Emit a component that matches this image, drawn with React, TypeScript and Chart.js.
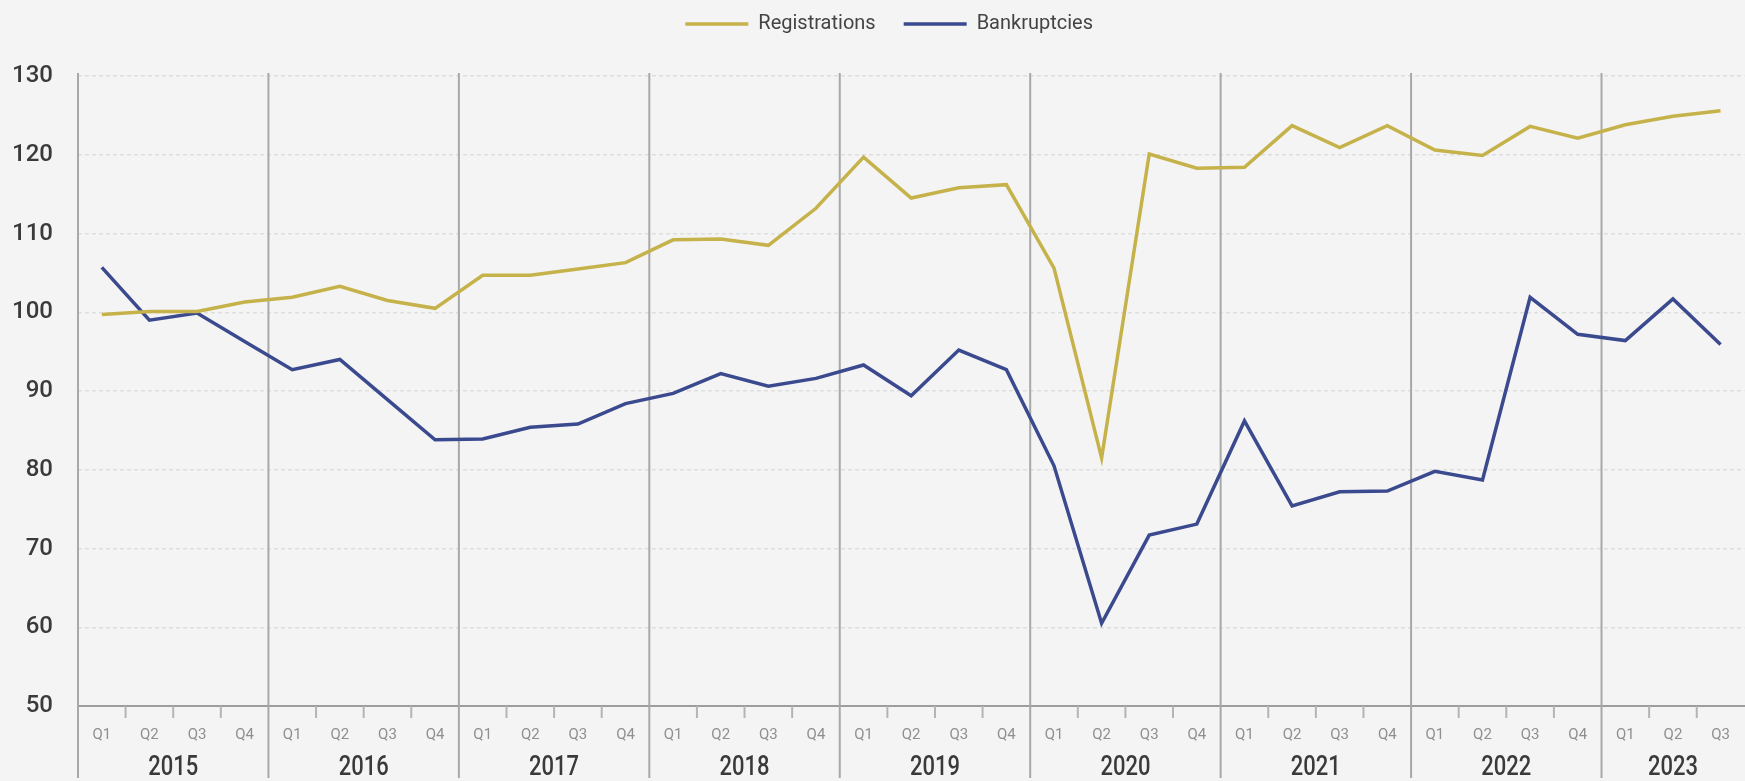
import { useEffect, useRef } from 'react';
import { Chart, registerables } from 'chart.js';

Chart.register(...registerables);

const YEARS = ['2015', '2016', '2017', '2018', '2019', '2020', '2021', '2022', '2023'];
const QUARTER_NAMES = ['Q1', 'Q2', 'Q3', 'Q4'];
const QUARTERS_PER_YEAR = [4, 4, 4, 4, 4, 4, 4, 4, 3];

const REGISTRATIONS = [
  99.7, 100.1, 100.1, 101.3,
  101.9, 103.3, 101.5, 100.5,
  104.7, 104.7, 105.5, 106.3,
  109.2, 109.3, 108.5, 113.2,
  119.7, 114.5, 115.8, 116.2,
  105.6, 81.5, 120.1, 118.3,
  118.4, 123.7, 120.9, 123.7,
  120.6, 119.9, 123.6, 122.1,
  123.8, 124.9, 125.6,
];

const BANKRUPTCIES = [
  105.7, 99.0, 99.9, 96.3,
  92.7, 94.0, 88.9, 83.8,
  83.9, 85.4, 85.8, 88.4,
  89.7, 92.2, 90.6, 91.6,
  93.3, 89.4, 95.2, 92.7,
  80.5, 60.5, 71.7, 73.1,
  86.2, 75.4, 77.2, 77.3,
  79.8, 78.7, 101.9, 97.2,
  96.4, 101.7, 95.9,
];

const Y_MIN = 50;
const Y_MAX = 130;
const Y_STEP = 10;

const CATEGORIES: string[] = [];
YEARS.forEach((y, k) => {
  for (let q = 0; q < QUARTERS_PER_YEAR[k]; q++) CATEGORIES.push(`${y} ${QUARTER_NAMES[q]}`);
});

const FONT = "Roboto, 'Liberation Sans', sans-serif";
const YELLOW = '#c6b24a';
const BLUE = '#3b4a8e';

const legendSpacer = {
  id: 'legendSpacer',
  beforeLayout(chart: any) {
    const lg = chart.legend;
    if (lg && !lg.__patched) {
      const orig = lg.fit.bind(lg);
      lg.fit = function () {
        orig();
        this.height += 32;
      };
      lg.__patched = true;
    }
  },
  afterLayout(chart: any) {
    const lg = chart.legend;
    if (lg) {
      lg.left -= 22;
      lg.right -= 22;
    }
  },
};

const yearAxis = {
  id: 'yearAxis',
  beforeDatasetsDraw(chart: any) {
    const x = chart.scales.x;
    const { top, bottom } = chart.chartArea;
    const ctx = chart.ctx;
    const half = (x.getPixelForValue(1) - x.getPixelForValue(0)) / 2;
    ctx.save();
    let idx = 0;
    YEARS.forEach((_, k) => {
      const n = QUARTERS_PER_YEAR[k];
      const left = x.getPixelForValue(idx) - half;
      ctx.strokeStyle = '#a8a8a8';
      ctx.lineWidth = 2;
      ctx.beginPath();
      ctx.moveTo(left, top - 3);
      ctx.lineTo(left, chart.height - 3);
      ctx.stroke();
      ctx.strokeStyle = '#b4b4b4';
      for (let q = 1; q < n; q++) {
        const px = x.getPixelForValue(idx + q) - half;
        ctx.beginPath();
        ctx.moveTo(px, bottom);
        ctx.lineTo(px, bottom + 12);
        ctx.stroke();
      }
      idx += n;
    });
    ctx.restore();
  },
  afterDraw(chart: any) {
    const x = chart.scales.x;
    const ctx = chart.ctx;
    ctx.save();
    ctx.font = `500 28px ${FONT}`;
    ctx.fillStyle = '#3a3a3a';
    ctx.textAlign = 'center';
    ctx.textBaseline = 'middle';
    let idx = 0;
    YEARS.forEach((y, k) => {
      const n = QUARTERS_PER_YEAR[k];
      const cx = (x.getPixelForValue(idx) + x.getPixelForValue(idx + n - 1)) / 2;
      ctx.fillText(y, cx, 768, 50);
      idx += n;
    });
    ctx.restore();
  },
};

export default function App() {
  const ref = useRef<HTMLCanvasElement | null>(null);

  useEffect(() => {
    if (!ref.current) return;
    const chart = new Chart(ref.current, {
      type: 'line',
      data: {
        labels: CATEGORIES,
        datasets: [
          {
            label: 'Registrations',
            data: REGISTRATIONS,
            borderColor: YELLOW,
            backgroundColor: YELLOW,
            borderWidth: 3.5,
            pointRadius: 0,
            tension: 0,
          },
          {
            label: 'Bankruptcies',
            data: BANKRUPTCIES,
            borderColor: BLUE,
            backgroundColor: BLUE,
            borderWidth: 3.5,
            pointRadius: 0,
            tension: 0,
          },
        ],
      },
      options: {
        responsive: false,
        animation: false,
        layout: { padding: { top: -14, left: 0, right: 0, bottom: 0 } },
        plugins: {
          legend: {
            display: true,
            position: 'top',
            fullSize: false,
            labels: {
              usePointStyle: true,
              pointStyle: 'line',
              pointStyleWidth: 63,
              padding: 28,
              color: '#444',
              font: { family: FONT, size: 20 },
            },
          },
          tooltip: { enabled: false },
        },
        scales: {
          x: {
            type: 'category',
            offset: true,
            grid: { display: true, color: 'transparent', drawTicks: false, drawOnChartArea: false },
            border: { display: true, color: '#9d9d9d', width: 2 },
            ticks: {
              autoSkip: false,
              maxRotation: 0,
              padding: 20,
              color: '#8f8f8f',
              font: { family: FONT, size: 15 },
              callback: (_v: any, i: number) => CATEGORIES[i].split(' ')[1],
            },
            afterFit: (scale: any) => {
              scale.height = 75;
            },
          },
          y: {
            min: Y_MIN,
            max: Y_MAX,
            ticks: {
              stepSize: Y_STEP,
              padding: 25,
              color: '#3a3a3a',
              font: { family: FONT, size: 24, weight: '500' },
            },
            grid: {
              drawTicks: false,
              lineWidth: 1.5,
              color: (c: any) => (c.tick && c.tick.value === Y_MIN ? 'transparent' : 'rgba(0,0,0,0.09)'),
            },
            border: { display: false, dash: [4, 3] },
            afterFit: (scale: any) => {
              scale.width = 78;
            },
          },
        },
      },
      plugins: [legendSpacer, yearAxis],
    } as any);
    return () => chart.destroy();
  }, []);

  return (
    <div
      style={{
        position: 'fixed',
        left: 0,
        top: 0,
        width: 1745,
        height: 781,
        overflow: 'hidden',
        background: '#f4f4f4',
      }}
    >
      <canvas ref={ref} width={1750} height={781} style={{ width: 1750, height: 781, display: 'block' }} />
    </div>
  );
}
